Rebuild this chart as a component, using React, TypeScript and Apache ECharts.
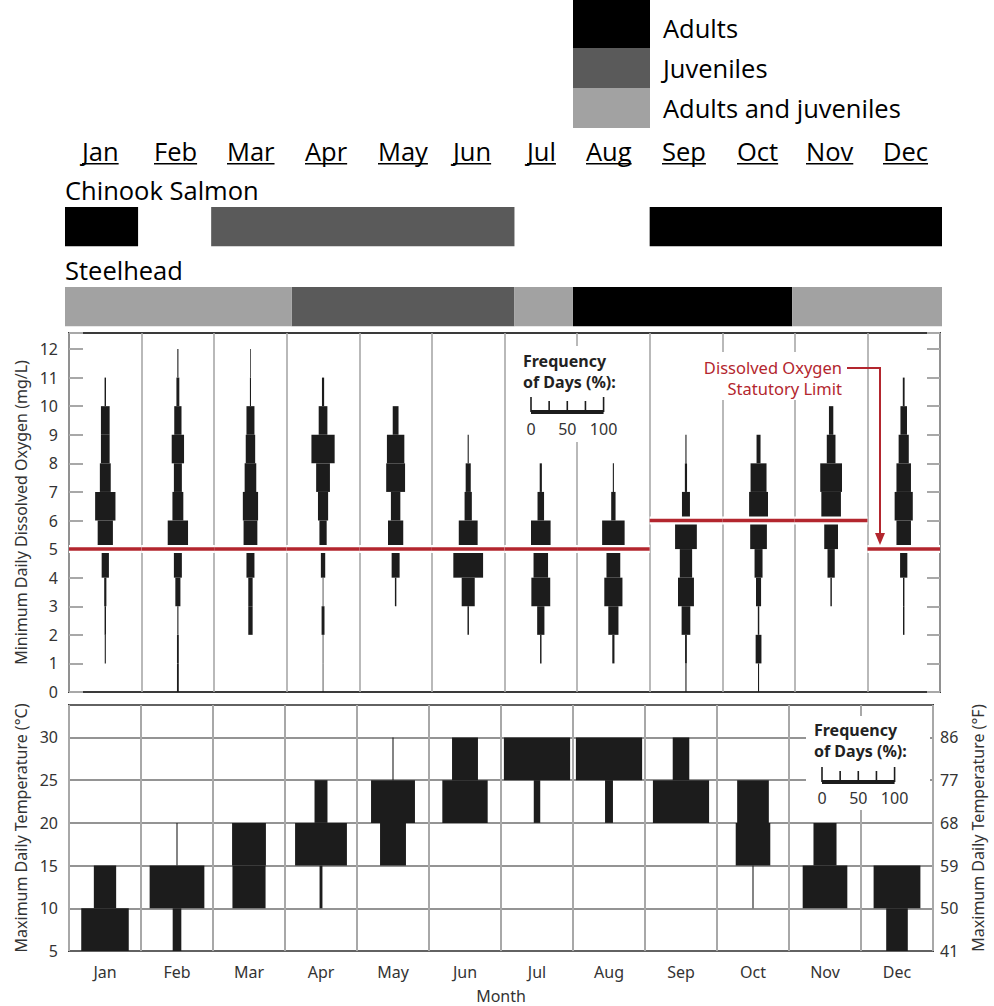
import React, { useEffect, useRef } from 'react';
import * as echarts from 'echarts';

// ---------- data ----------
const MONTHS = ['Jan', 'Feb', 'Mar', 'Apr', 'May', 'Jun', 'Jul', 'Aug', 'Sep', 'Oct', 'Nov', 'Dec'];
const SPECIES = ['Chinook Salmon', 'Steelhead'];
const STAGES = ['Adults', 'Juveniles', 'Adults and juveniles'];
const STAGE_COLORS = ['#000000', '#5a5a5a', '#a2a2a2'];

// [start month, end month, stage index]
const chinookPeriods = [[0, 1, 0], [2, 6.15, 1], [8, 12, 0]];
const steelheadPeriods = [[0, 3.1, 2], [3.1, 6.15, 1], [6.15, 6.95, 2], [6.95, 9.95, 0], [9.95, 12, 2]];

// Minimum daily dissolved oxygen: frequency of days (%) per 1 mg/L bin, bins 0-1 ... 11-12
const DO_BIN_STARTS = [0, 1, 2, 3, 4, 5, 6, 7, 8, 9, 10, 11];
const doJan = [0, 1.5, 2, 3, 10, 21, 28, 15, 12, 12, 2, 0];
const doFeb = [2.5, 2.5, 1.5, 7, 11, 28, 15, 11, 17, 10, 4, 1.5];
const doMar = [0, 0, 6, 6, 11, 19, 21, 16, 13, 11, 1.5, 1];
const doApr = [1, 1, 4, 1, 6, 10, 14, 19, 32, 12, 3, 0];
const doMay = [0, 0, 0, 2, 11, 21, 13, 26, 24, 8, 0, 0];
const doJun = [0, 0, 2, 18, 41, 26, 10, 7, 1.5, 0, 0, 0];
const doJul = [0, 2, 10, 26, 20, 27, 9, 3, 0, 0, 0, 0];
const doAug = [0, 3, 14, 25, 19, 31, 6, 1.5, 0, 0, 0, 0];
const doSep = [1.5, 2.5, 12, 22, 17, 30, 11, 3, 1.5, 0, 0, 0];
const doOct = [1.5, 8, 2, 7, 11, 23, 26, 22, 5.5, 0, 0, 0];
const doNov = [0, 0, 0, 2, 10, 19, 27, 30, 12, 6, 0, 0];
const doDec = [0, 0, 2, 2, 10, 20, 25, 20, 14, 9, 2.5, 0];
const DO_FREQ = [doJan, doFeb, doMar, doApr, doMay, doJun, doJul, doAug, doSep, doOct, doNov, doDec];
const DO_LIMIT = [5, 5, 5, 5, 5, 5, 5, 5, 6, 6, 6, 5];

// Maximum daily temperature: frequency of days (%) per 5 °C bin, bins 5-10 ... 25-30
const T_BIN_STARTS = [5, 10, 15, 20, 25];
const tJan = [66, 31, 0, 0, 0];
const tFeb = [12, 76, 1.5, 0, 0];
const tMar = [0, 46, 47, 0, 0];
const tApr = [0, 4, 72, 18, 0];
const tMay = [0, 0, 36, 61, 1.5];
const tJun = [0, 0, 0, 63, 36];
const tJul = [0, 0, 0, 9, 92];
const tAug = [0, 0, 0, 11, 92];
const tSep = [0, 0, 0, 78, 23];
const tOct = [0, 1.5, 48, 44, 0];
const tNov = [0, 62, 32, 0, 0];
const tDec = [30, 65, 0, 0, 0];
const T_FREQ = [tJan, tFeb, tMar, tApr, tMay, tJun, tJul, tAug, tSep, tOct, tNov, tDec];

const FREQ_SCALE_LABELS = ['0', '50', '100'];

// ---------- layout ----------
const PLOT_L = 69;
const PLOT_R = 940;
const DO_TOP = 333;
const DO_BOT = 692;
const T_TOP = 705;
const T_BOT = 951;
const MONTH_W = (PLOT_R - PLOT_L) / 12;
const HEADER_LABEL_LEFT = [82, 154, 227, 305, 378, 453, 527, 586, 662, 737, 806, 883];
const TOP_FONT = '"Open Sans", sans-serif';
const TOP_SIZE = 25.5;
const CHART_FONT = '"Noto Sans", sans-serif';
const RED = '#b3262e';
const INK = '#1c1c1c';

function measure(text: string, font: string): number {
  const c = document.createElement('canvas').getContext('2d');
  if (!c) return text.length * 12;
  c.font = font;
  return c.measureText(text).width;
}

function freqLegend(x0: number, yTitle: number, yBar: number, yLabels: number, box: number[]) {
  const els: any[] = [];
  els.push({ type: 'rect', z: 1, shape: { x: box[0], y: box[1], width: box[2], height: box[3] }, style: { fill: '#ffffff' } });
  els.push({ type: 'text', z: 5, style: { text: 'Frequency', x: x0 - 8, y: yTitle, fontSize: 16, fontWeight: 'bold', fontFamily: CHART_FONT, fill: '#222', verticalAlign: 'middle' } });
  els.push({ type: 'text', z: 5, style: { text: 'of Days (%):', x: x0 - 8, y: yTitle + 21, fontSize: 16, fontWeight: 'bold', fontFamily: CHART_FONT, fill: '#222', verticalAlign: 'middle' } });
  els.push({ type: 'rect', z: 5, shape: { x: x0, y: yBar, width: MONTH_W, height: 4 }, style: { fill: INK } });
  for (let k = 0; k <= 4; k++) {
    const x = x0 + (k * MONTH_W) / 4;
    const top = k === 0 || k === 4 ? yBar - 13 : yBar - 9;
    els.push({ type: 'line', z: 5, shape: { x1: x, y1: top, x2: x, y2: yBar + 2 }, style: { stroke: INK, lineWidth: 1.6 } });
  }
  FREQ_SCALE_LABELS.forEach((t, i) => {
    els.push({ type: 'text', z: 5, style: { text: t, x: x0 + (i * MONTH_W) / 2, y: yLabels, fontSize: 16, fontFamily: CHART_FONT, fill: '#333', align: 'center', verticalAlign: 'middle' } });
  });
  return els;
}

function buildOption() {
  const doData: any[] = [];
  DO_FREQ.forEach((arr, m) => arr.forEach((f, b) => { if (f > 0) doData.push([m, DO_BIN_STARTS[b], DO_BIN_STARTS[b] + 1, f]); }));
  const tData: any[] = [];
  T_FREQ.forEach((arr, m) => arr.forEach((f, b) => { if (f > 0) tData.push([m, T_BIN_STARTS[b], T_BIN_STARTS[b] + 5, f]); }));
  const limitData = DO_LIMIT.map((v, m) => [m, v]);

  const glyph = (params: any, api: any) => {
    const m = api.value(0);
    const top = api.coord([m, api.value(2)]);
    const bot = api.coord([m, api.value(1)]);
    const w = (api.size([1, 0])[0] * api.value(3)) / 100;
    return { type: 'rect', shape: { x: top[0] - w / 2, y: top[1], width: w, height: bot[1] - top[1] }, style: { fill: INK } };
  };

  const timelineSeries = STAGES.map((name, si) => {
    const data: any[] = [];
    chinookPeriods.forEach((p) => { if (p[2] === si) data.push([p[0], p[1], 0]); });
    steelheadPeriods.forEach((p) => { if (p[2] === si) data.push([p[0], p[1], 1]); });
    return {
      type: 'custom', name, xAxisIndex: 2, yAxisIndex: 4, itemStyle: { color: STAGE_COLORS[si] },
      encode: { x: [0, 1], y: 2 }, data,
      renderItem: (params: any, api: any) => {
        const s = api.coord([api.value(0), api.value(2)]);
        const e = api.coord([api.value(1), api.value(2)]);
        const h = api.size([0, 1])[1];
        return { type: 'rect', shape: { x: s[0], y: s[1], width: e[0] - s[0], height: h * 0.49 }, style: { fill: api.visual('color') } };
      },
    };
  });

  const graphics: any[] = [];
  graphics.push({ type: 'rect', shape: { x: 573, y: 0, width: 77, height: 9 }, style: { fill: STAGE_COLORS[0] } });
  MONTHS.forEach((mo, i) => {
    const x = HEADER_LABEL_LEFT[i];
    const w = measure(mo, `${TOP_SIZE}px ${TOP_FONT}`);
    graphics.push({ type: 'text', style: { text: mo, x, y: 151, fontSize: TOP_SIZE, fontFamily: TOP_FONT, fill: '#000', verticalAlign: 'middle' } });
    graphics.push({ type: 'rect', shape: { x, y: 163, width: w, height: 1.6 }, style: { fill: '#000' } });
  });
  graphics.push({ type: 'text', style: { text: SPECIES[0], x: 65, y: 190, fontSize: TOP_SIZE, fontFamily: TOP_FONT, fill: '#000', verticalAlign: 'middle' } });
  graphics.push({ type: 'text', style: { text: SPECIES[1], x: 65, y: 270, fontSize: TOP_SIZE, fontFamily: TOP_FONT, fill: '#000', verticalAlign: 'middle' } });

  graphics.push(...freqLegend(531, 361, 410, 429, [519, 346, 98, 96]));
  graphics.push(...freqLegend(822, 730, 780, 798, [806, 716, 124, 94]));

  graphics.push({ type: 'rect', z: 1, shape: { x: 688, y: 352, width: 158, height: 48 }, style: { fill: '#fff' } });
  graphics.push({ type: 'text', z: 5, style: { text: 'Dissolved Oxygen', x: 842, y: 367, fontSize: 16.5, fontFamily: CHART_FONT, fill: RED, align: 'right', verticalAlign: 'middle' } });
  graphics.push({ type: 'text', z: 5, style: { text: 'Statutory Limit', x: 842, y: 388, fontSize: 16.5, fontFamily: CHART_FONT, fill: RED, align: 'right', verticalAlign: 'middle' } });
  graphics.push({ type: 'polyline', z: 5, shape: { points: [[847, 368], [880, 368], [880, 535]] }, style: { stroke: RED, lineWidth: 2, fill: null } });
  graphics.push({ type: 'polygon', z: 5, shape: { points: [[875, 533], [885, 533], [880, 545]] }, style: { fill: RED } });

  const axisLabelStyle = { fontSize: 16, fontFamily: CHART_FONT, color: '#333' };
  const nameStyle = { fontSize: 16, fontFamily: CHART_FONT, color: '#333' };

  return {
    animation: false,
    backgroundColor: '#ffffff',
    textStyle: { fontFamily: CHART_FONT },
    legend: {
      data: STAGES.map((n) => ({ name: n, icon: 'rect' })),
      orient: 'vertical', left: 573, top: 8, padding: 0, itemWidth: 77, itemHeight: 40, itemGap: 0,
      selectedMode: false,
      textStyle: { fontSize: TOP_SIZE, fontFamily: TOP_FONT, color: '#000', padding: [0, 0, 0, 8] },
    },
    grid: [
      { left: PLOT_L, top: DO_TOP, width: PLOT_R - PLOT_L, height: DO_BOT - DO_TOP, show: true, borderColor: '#3a3a3a', borderWidth: 2, backgroundColor: 'transparent' },
      { left: PLOT_L, top: T_TOP, width: PLOT_R - PLOT_L, height: T_BOT - T_TOP, show: true, borderColor: '#3a3a3a', borderWidth: 2, backgroundColor: 'transparent' },
      { left: 65, top: 167, width: 877, height: 160, show: false },
    ],
    xAxis: [
      { type: 'category', gridIndex: 0, data: MONTHS, axisLine: { show: false }, axisTick: { show: false }, axisLabel: { show: false }, splitLine: { show: true, lineStyle: { color: '#a8a8a8', width: 1.6 } } },
      { type: 'category', gridIndex: 1, data: MONTHS, axisLine: { show: false }, axisTick: { show: false },
        axisLabel: { ...axisLabelStyle, margin: 13 }, splitLine: { show: true, lineStyle: { color: '#a8a8a8', width: 2 } },
        name: 'Month', nameLocation: 'middle', nameGap: 37, nameTextStyle: { fontSize: 16, fontFamily: CHART_FONT, color: '#333' } },
      { type: 'value', gridIndex: 2, min: 0, max: 12, show: false },
    ],
    yAxis: [
      { type: 'value', gridIndex: 0, min: 0, max: 12.56, interval: 1, axisLine: { show: false }, splitLine: { show: false },
        axisTick: { show: true, inside: true, length: 14, lineStyle: { color: '#a8a8a8', width: 2 } },
        axisLabel: { ...axisLabelStyle, margin: 11, formatter: (v: number) => (Number.isInteger(v) ? String(v) : '') },
        name: 'Minimum Daily Dissolved Oxygen (mg/L)', nameLocation: 'middle', nameGap: 37, nameTextStyle: nameStyle },
      { type: 'value', gridIndex: 0, position: 'right', min: 0, max: 12.56, interval: 1, axisLine: { show: false }, splitLine: { show: false },
        axisTick: { show: true, inside: true, length: 13, lineStyle: { color: '#a8a8a8', width: 2 } }, axisLabel: { show: false } },
      { type: 'value', gridIndex: 1, min: 5, max: 33.8, interval: 5, axisLine: { show: false }, axisTick: { show: false },
        splitLine: { show: true, lineStyle: { color: '#707070', width: 1.5 } },
        axisLabel: { ...axisLabelStyle, margin: 11, formatter: (v: number) => (v % 5 === 0 ? String(v) : '') },
        name: 'Maximum Daily Temperature (°C)', nameLocation: 'middle', nameGap: 37, nameTextStyle: nameStyle },
      { type: 'value', gridIndex: 1, position: 'right', min: 5, max: 33.8, interval: 5, axisLine: { show: false }, axisTick: { show: false }, splitLine: { show: false },
        axisLabel: { ...axisLabelStyle, margin: 7, formatter: (v: number) => (v % 5 === 0 ? String(Math.round((v * 9) / 5 + 32)) : '') },
        name: 'Maximum Daily Temperature (°F)', nameLocation: 'middle', nameGap: 37, nameTextStyle: nameStyle },
      { type: 'category', gridIndex: 2, data: SPECIES, inverse: true, show: false },
    ],
    series: [
      ...timelineSeries,
      { type: 'custom', name: 'DO frequency', xAxisIndex: 0, yAxisIndex: 0, z: 2, encode: { x: 0, y: [1, 2] }, data: doData, renderItem: glyph },
      {
        type: 'custom', name: 'DO limit', xAxisIndex: 0, yAxisIndex: 0, z: 3, encode: { x: 0, y: 1 }, data: limitData,
        renderItem: (params: any, api: any) => {
          const c = api.coord([api.value(0), api.value(1)]);
          const half = api.size([1, 0])[0] / 2;
          return {
            type: 'group',
            children: [
              { type: 'line', shape: { x1: c[0] - half, y1: c[1], x2: c[0] + half, y2: c[1] }, style: { stroke: '#ffffff', lineWidth: 8 } },
              { type: 'line', shape: { x1: c[0] - half, y1: c[1], x2: c[0] + half, y2: c[1] }, style: { stroke: RED, lineWidth: 3.5 } },
            ],
          };
        },
      },
      { type: 'custom', name: 'Temperature frequency', xAxisIndex: 1, yAxisIndex: 2, z: 2, encode: { x: 0, y: [1, 2] }, data: tData, renderItem: glyph },
    ],
    graphic: graphics,
  };
}

export default function App() {
  const ref = useRef<HTMLDivElement>(null);
  useEffect(() => {
    document.body.style.margin = '0';
    if (!ref.current) return;
    const chart = echarts.init(ref.current, null, { renderer: 'svg' });
    chart.setOption(buildOption() as any);
    return () => chart.dispose();
  }, []);
  return <div ref={ref} style={{ width: 994, height: 1006 }} />;
}
